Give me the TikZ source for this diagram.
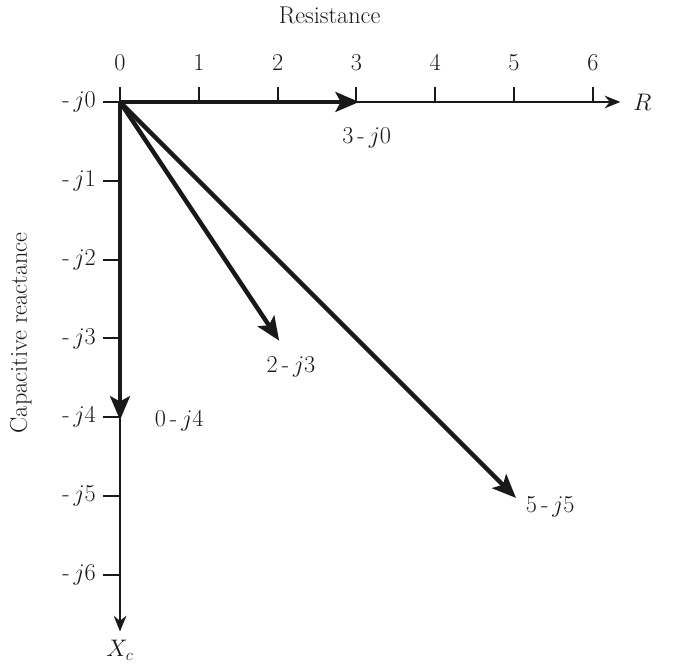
\documentclass[tikz,border=0pt]{standalone}
\usepackage{amsmath, amssymb}
\usepackage{xcolor}
\usepackage{tikz}
\usetikzlibrary{arrows.meta}
\definecolor{inkblack}{RGB}{25,25,25}
\tikzset{
  axisline/.style={inkblack, line width=1.5pt, -{Stealth[length=0.4cm, width=0.32cm]}},
  phasor/.style={inkblack, line width=3.2pt, -{Stealth[length=0.6cm, width=0.5cm, inset=0.13cm]}, shorten >=-2pt},
  tickmark/.style={inkblack, line width=1.4pt},
  axislabel/.style={inkblack, font=\fontsize{17.5}{20}\selectfont},
}

\begin{document}
\begin{tikzpicture}[x=2cm, y=2cm, font=\fontsize{17.5}{20}\selectfont]
  \useasboundingbox (-1.523,-7.157) rectangle (7.119,1.294);
  \coordinate (O) at (0,0);
  \coordinate (Rend) at (6.35,0);
  \coordinate (Xend) at (0,-6.72);
  \coordinate (Rstart) at (-0.15,0);
  % axes
  \draw[axisline] (Rstart) -- (Rend);
  \draw[axisline] (O) -- (Xend);
  \foreach \k in {0,...,6} {
    \draw[tickmark] (\k,0) -- (\k,0.19);
    \node[axislabel] (rlab\k) at (\k,0.5) {\k};
    \draw[tickmark] (0,-\k) -- (-0.21,-\k);
    \node[axislabel] (xlab\k) at (-0.52,-\k) {-\,$j$\k};
  }
  \node[axislabel] (Rname) at (6.63,0) {$R$};
  \node[axislabel, inner ysep=1pt] (Xname) at (0,-6.96) {$X_c$};
  \node[axislabel] (restitle) at (2.66,1.1) {Resistance};
  \node[axislabel, rotate=90] (reacttitle) at (-1.26,-2.93) {Capacitive reactance};
  % phasors
  \coordinate (P30) at (3,0);
  \coordinate (P23) at (2,-3);
  \coordinate (P04) at (0,-4);
  \coordinate (P55) at (5,-5);
  \draw[phasor] (O) -- (P30);
  \draw[phasor] (O) -- (P23);
  \draw[phasor] (O) -- (P04);
  \draw[phasor] (O) -- (P55);
  \node[axislabel] (l30) at (3.13,-0.46) {3\,-\,$j$0};
  \node[axislabel] (l23) at (2.17,-3.36) {2\,-\,$j$3};
  \node[axislabel] (l04) at (0.75,-4.04) {0\,-\,$j$4};
  \node[axislabel] (l55) at (5.46,-5.14) {5\,-\,$j$5};
\end{tikzpicture}
\end{document}
